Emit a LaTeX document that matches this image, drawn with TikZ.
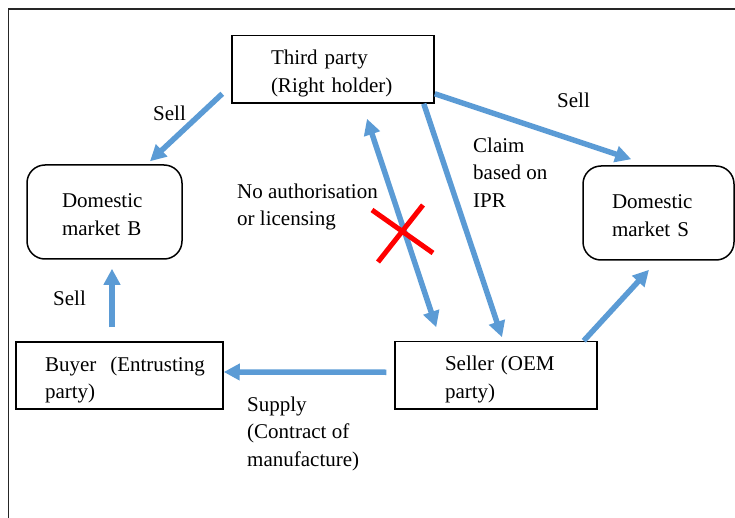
\documentclass[tikz,border=0pt]{standalone}
\usepackage{fontspec}
\setmainfont{Liberation Serif}
\usetikzlibrary{arrows.meta}

\definecolor{arrowblue}{RGB}{91,155,213}

\tikzset{
    party/.style={draw, line width=1.5pt, align=left, inner sep=0pt,
        execute at begin node={\rule{0pt}{23.5pt}}},
    market/.style={draw, line width=1.5pt, align=left, inner sep=0pt,
        rounded corners=18pt, execute at begin node={\rule{0pt}{19pt}}},
    flow/.style={line width=5.5pt, arrowblue},
    lbl/.style={anchor=north west, inner sep=0pt, align=left}
}

\begin{document}
\begin{tikzpicture}[x=1pt, y=-1pt,
        every node/.style={font=\fontsize{21}{27.5}\selectfont},
        >={Triangle[length=16pt,width=16pt]}]
            \useasboundingbox (0,0) rectangle (735,518);

            % frame
            \draw[line width=1.5pt, black!85] (8.5,518) -- (8.5,9) -- (735,9);

            % parties and markets
            \node[party, minimum width=202pt, minimum height=67.5pt, text width=124pt] (third) at (333,69.25) {Third party\\\mbox{(Right holder)}};
            \node[market, minimum width=155pt, minimum height=94pt, text width=85pt] (domb) at (104.5,212) {Domestic\\market B};
            \node[market, minimum width=151pt, minimum height=94pt, text width=93pt] (doms) at (658.5,213) {Domestic\\market S};
            \node[party, minimum width=207pt, minimum height=67pt, text width=149pt] (buyer) at (119.5,375.5) {\mbox{Buyer~~(Entrusting}\\party)};
            \node[party, minimum width=202pt, minimum height=67.5pt, text width=102pt] (seller) at (496,375.25) {\mbox{Seller (OEM}\\party)};

            % labels
            \node[lbl] (sellb) at (153,105.7) {Sell};
            \node[lbl] (sells) at (557,92.7) {Sell};
            \node[lbl] (sellup) at (53,290.7) {Sell};
            \node[lbl] (claim) at (473,137.7) {Claim\\based on\\IPR};
            \node[lbl] (noauth) at (237,183.7) {No authorisation\\or licensing};
            \node[lbl] (supply) at (247,396.7) {Supply\\(Contract of\\manufacture)};

            % arrows
            \draw[flow, ->] ([xshift=-9pt,yshift=10pt]third.south west) -- ([xshift=45.5pt,yshift=3pt]domb.north);
            \draw[flow, ->] ([yshift=10pt]third.south east) -- ([xshift=49pt,yshift=6pt]doms.north west);
            \draw[flow, <->] ([xshift=34pt,yshift=-15pt]third.south) -- ([xshift=42pt,yshift=13.5pt]seller.north west);
            \draw[flow, ->] ([xshift=-11pt]third.south east) -- ([xshift=6pt,yshift=3.5pt]seller.north);
            \draw[flow, ->] ([xshift=-14pt]seller.north east) -- ([xshift=-9.5pt,yshift=-9pt]doms.south);
            \draw[flow, ->] ([xshift=-7.5pt,yshift=14pt]buyer.north) -- ([xshift=7.5pt,yshift=-9pt]domb.south);
            \draw[flow, ->] ([xshift=-8pt,yshift=3pt]seller.west) -- ([yshift=3.5pt]buyer.east);

            % cross
            \draw[line width=5pt, red] (372,210) -- (433,253) (423,205) -- (378,262);
        \end{tikzpicture}
\end{document}
